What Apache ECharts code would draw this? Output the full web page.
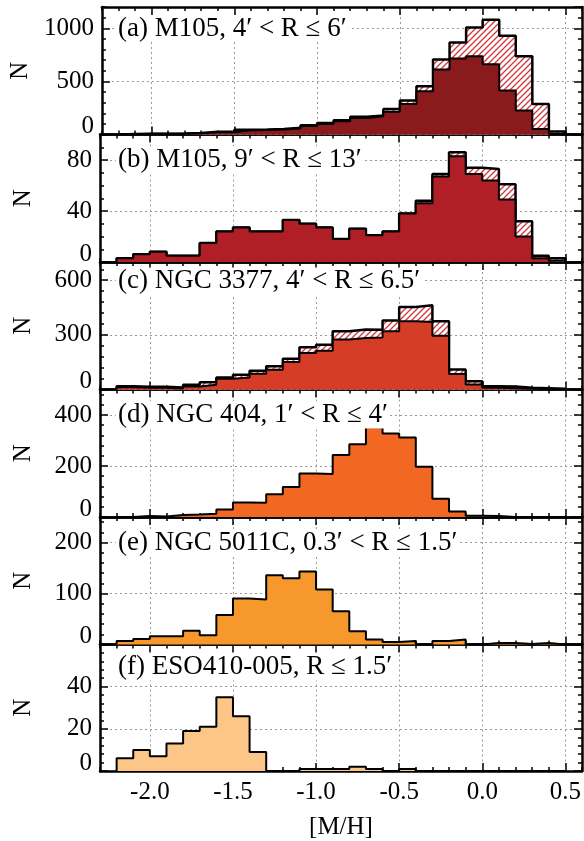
<!DOCTYPE html>
<html>
<head>
<meta charset="utf-8">
<script src="https://cdn.jsdelivr.net/npm/echarts@6/dist/echarts.min.js"></script>
<style>html,body{margin:0;padding:0;background:#fff;}</style>
</head>
<body>
<div id="main" style="width:584px;height:841px;"></div>
<script>
// bin edges of the [M/H] histograms (0.1 dex bins)
var binEdges = [-2.2, -2.1, -2.0, -1.9, -1.8, -1.7, -1.6, -1.5, -1.4, -1.3, -1.2, -1.1, -1.0, -0.9,
	-0.8, -0.7, -0.6, -0.5, -0.4, -0.3, -0.2, -0.1, 0.0, 0.1, 0.2, 0.3, 0.4, 0.5];
var xTicks = [-2.0, -1.5, -1.0, -0.5, 0.0, 0.5];

// (a) M105 4'-6'
var aTotal = [5, 8, 8, 10, 15, 25, 25, 45, 48, 52, 63, 88, 108, 133, 168, 180, 240, 320, 453, 706, 867, 1006, 1079, 930, 737, 288, 28];
var aMain = [3, 6, 6, 8, 12, 20, 22, 40, 43, 47, 57, 80, 100, 125, 155, 172, 215, 288, 408, 611, 715, 737, 661, 415, 225, 51, 5];
// (b) M105 9'-13'
var bTotal = [3, 6, 8, 5, 5, 15, 24, 27, 24, 24, 33, 30, 27, 18, 26, 21, 24, 38, 48, 69, 86, 74, 73, 61, 32, 5, 3];
var bMain = [3, 6, 8, 5, 5, 15, 24, 27, 24, 24, 33, 30, 27, 18, 26, 21, 24, 38, 46, 67, 83, 69, 64, 49, 20, 3, 1];
// (c) NGC 3377
var cTotal = [18, 15, 15, 11, 26, 40, 66, 81, 103, 127, 169, 232, 246, 320, 330, 328, 379, 453, 462, 375, 110, 45, 18, 16, 9, 7, 4];
var cMain = [12, 10, 10, 6, 17, 26, 59, 66, 86, 108, 151, 200, 213, 274, 283, 285, 320, 375, 370, 295, 85, 28, 9, 7, 4, 3, 2];
// (d) NGC 404
var dMain = [0, 4, 2, 8, 10, 13, 29, 57, 56, 89, 118, 171, 169, 243, 285, 352, 327, 312, 197, 72, 22, 5, 4, 0, 0, 0, 0];
// (e) NGC 5011C
var eMain = [7, 11, 16, 16, 27, 18, 58, 90, 88, 136, 130, 143, 108, 65, 26, 10, 5, 7, 0, 7, 10, 0, 3, 3, 1, 3, 0];
// (f) ESO410-005
var fMain = [6, 10, 7, 13, 19, 21, 35, 26, 9, 0, 0, 1, 1, 1, 2, 1, 0, 1, 0, 0, 0, 0, 0, 0, 0, 0, 0];

var panelLabels = ['(a) M105, 4\u2032 < R \u2264 6\u2032', '(b) M105, 9\u2032 < R \u2264 13\u2032',
	'(c) NGC 3377, 4\u2032 < R \u2264 6.5\u2032', '(d) NGC 404, 1\u2032 < R \u2264 4\u2032',
	'(e) NGC 5011C, 0.3\u2032 < R \u2264 1.5\u2032', '(f) ESO410-005, R \u2264 1.5\u2032'];
var yMax = [1200, 100, 700, 500, 250, 60];
var yStep = [500, 40, 300, 200, 100, 20];
var yMinor = [100, 10, 60, 40, 20, 4];
var fillColors = ['#8b1a1d', '#b11f26', '#d63d27', '#f26722', '#f7982d', '#fcc688'];
var totals = [aTotal, bTotal, cTotal, null, null, null];
var mains = [aMain, bMain, cMain, dMain, eMain, fMain];

var FONT = 'Liberation Serif';
var top0 = 7, panelH = 127.5;
var labelY = [28.5, 160, 281, 415, 542.5, 667];

function hatch() {
	var c = document.createElement('canvas');
	c.width = 6; c.height = 6;
	var g = c.getContext('2d');
	g.fillStyle = '#fff';
	g.fillRect(0, 0, 6, 6);
	g.strokeStyle = '#d2353a';
	g.lineWidth = 1.3;
	g.beginPath();
	g.moveTo(-1, 7); g.lineTo(7, -1);
	g.moveTo(-4, 4); g.lineTo(4, -4);
	g.moveTo(2, 10); g.lineTo(10, 2);
	g.stroke();
	return c;
}
var hatchFill = { image: hatch(), repeat: 'repeat' };

// step outline of a histogram
function steps(vals) {
	var d = [[binEdges[0], 0]];
	for (var i = 0; i < vals.length; i++) d.push([binEdges[i], vals[i]]);
	d.push([binEdges[binEdges.length - 1], 0]);
	return d;
}

var grids = [], xAxes = [], yAxes = [], series = [], graphics = [];
var dots = { color: '#9a9a9a', width: 1, type: [2, 3] };
var blk = { color: '#000', width: 2.5 };
var tk = { color: '#000', width: 1.5 };

for (var i = 0; i < 6; i++) {
	grids.push({ left: 100, width: 482, top: top0 + i * panelH, height: panelH });
	var last = i === 5;
	// x: bottom major, bottom minor, top major, top minor
	xAxes.push({
		gridIndex: i, type: 'value', min: -2.3, max: 0.6, position: 'bottom',
		axisLine: { show: true, onZero: false, lineStyle: blk },
		axisTick: { show: true, inside: true, length: 8, customValues: xTicks, lineStyle: tk },
		axisLabel: { show: last, customValues: xTicks, fontSize: 25, fontFamily: FONT, color: '#000', margin: 9,
			formatter: function (v) { return v.toFixed(1); } },
		splitLine: { show: true, lineStyle: dots },
		name: last ? '[M/H]' : '', nameLocation: 'middle', nameGap: 44,
		nameTextStyle: { fontSize: 25, fontFamily: FONT, color: '#000' }
	});
	xAxes.push({
		gridIndex: i, type: 'value', min: -2.3, max: 0.6, interval: 0.1, position: 'bottom',
		axisLine: { show: false, onZero: false },
		axisTick: { show: true, inside: true, length: 4, lineStyle: tk },
		axisLabel: { show: false }, splitLine: { show: false }
	});
	xAxes.push({
		gridIndex: i, type: 'value', min: -2.3, max: 0.6, position: 'top',
		axisLine: { show: true, onZero: false, lineStyle: blk },
		axisTick: { show: true, inside: true, length: 8, customValues: xTicks, lineStyle: tk },
		axisLabel: { show: false }, splitLine: { show: false }
	});
	xAxes.push({
		gridIndex: i, type: 'value', min: -2.3, max: 0.6, interval: 0.1, position: 'top',
		axisLine: { show: false, onZero: false },
		axisTick: { show: true, inside: true, length: 4, lineStyle: tk },
		axisLabel: { show: false }, splitLine: { show: false }
	});
	// y: left major, left minor, right major, right minor
	yAxes.push({
		gridIndex: i, type: 'value', min: 0, max: yMax[i], interval: yStep[i], position: 'left',
		axisLine: { show: true, onZero: false, lineStyle: blk },
		axisTick: { show: true, inside: true, length: 8, lineStyle: tk },
		axisLabel: { fontSize: 25, fontFamily: FONT, color: '#000', margin: 8, showMaxLabel: false,
			formatter: function (v) { return v === 0 ? '{z|0}' : String(v); },
			rich: { z: { fontSize: 25, fontFamily: FONT, color: '#000', padding: [0, 0, 16, 0] } } },
		splitLine: { show: true, lineStyle: dots },
		name: 'N', nameLocation: 'middle', nameRotate: 90, nameGap: 64,
		nameTextStyle: { fontSize: 25, fontFamily: FONT, color: '#000' }
	});
	yAxes.push({
		gridIndex: i, type: 'value', min: 0, max: yMax[i], interval: yMinor[i], position: 'left',
		axisLine: { show: false, onZero: false },
		axisTick: { show: true, inside: true, length: 4, lineStyle: tk },
		axisLabel: { show: false }, splitLine: { show: false }
	});
	yAxes.push({
		gridIndex: i, type: 'value', min: 0, max: yMax[i], interval: yStep[i], position: 'right',
		axisLine: { show: true, onZero: false, lineStyle: blk },
		axisTick: { show: true, inside: true, length: 8, lineStyle: tk },
		axisLabel: { show: false }, splitLine: { show: false }
	});
	yAxes.push({
		gridIndex: i, type: 'value', min: 0, max: yMax[i], interval: yMinor[i], position: 'right',
		axisLine: { show: false, onZero: false },
		axisTick: { show: true, inside: true, length: 4, lineStyle: tk },
		axisLabel: { show: false }, splitLine: { show: false }
	});

	if (totals[i]) {
		series.push({
			type: 'line', xAxisIndex: 4 * i, yAxisIndex: 4 * i, step: 'end', symbol: 'none',
			data: steps(totals[i]), z: 2, silent: true,
			lineStyle: { color: '#000', width: 2.5 },
			areaStyle: { color: hatchFill, opacity: 1 }
		});
	}
	series.push({
		type: 'line', xAxisIndex: 4 * i, yAxisIndex: 4 * i, step: 'end', symbol: 'none',
		data: steps(mains[i]), z: 3, silent: true,
		lineStyle: { color: '#000', width: 2 },
		areaStyle: { color: fillColors[i], opacity: 1 }
	});

	graphics.push({
		type: 'text', x: 116, y: labelY[i], z: 100,
		style: { text: panelLabels[i], font: '27px "' + FONT + '"', fill: '#000',
			verticalAlign: 'middle', backgroundColor: '#fff', padding: [0, 2] }
	});
}

var chart = echarts.init(document.getElementById('main'));
chart.setOption({
	animation: false,
	textStyle: { fontFamily: FONT, color: '#000' },
	grid: grids,
	xAxis: xAxes,
	yAxis: yAxes,
	series: series,
	graphic: graphics
});
</script>
</body>
</html>
